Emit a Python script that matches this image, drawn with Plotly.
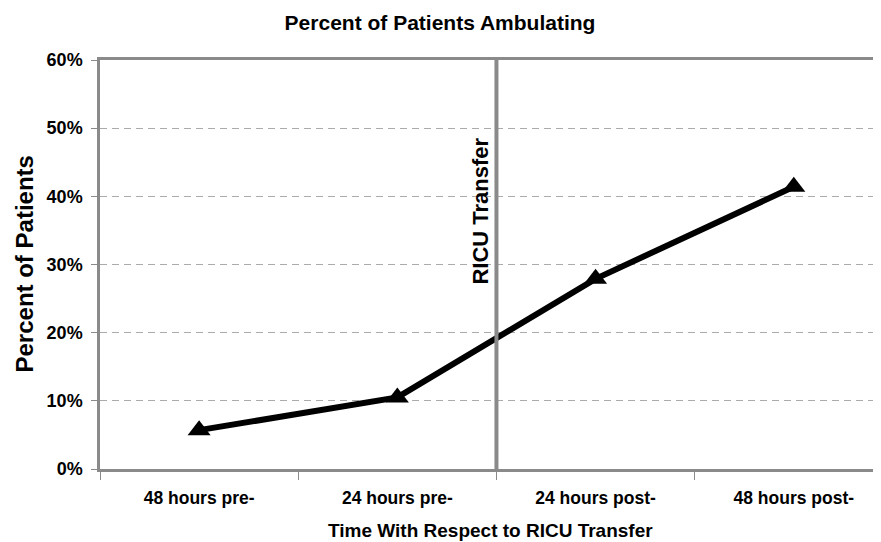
import plotly.graph_objects as go

categories = ["48 hours pre-", "24 hours pre-", "24 hours post-", "48 hours post-"]
percent_ambulating = [0.057, 0.105, 0.279, 0.414]
y_ticks = [0, 0.1, 0.2, 0.3, 0.4, 0.5, 0.6]
y_tick_labels = ["0%", "10%", "20%", "30%", "40%", "50%", "60%"]
transfer_position = 1.5
transfer_label = "RICU Transfer"

font_family = "Liberation Sans, Arial, sans-serif"
gray = "#8a8a8a"

# the page body adds an 8px offset; size the figure to the visible window area
FIG_W, FIG_H = 873, 534

fig = go.Figure()
fig.add_trace(go.Scatter(
    x=categories, y=percent_ambulating, mode="lines+markers",
    line=dict(color="black", width=6),
    marker=dict(symbol="triangle-up", size=20, color="black"),
    showlegend=False, cliponaxis=False,
))

fig.add_shape(type="line", xref="x", yref="paper", x0=transfer_position, x1=transfer_position,
              y0=0, y1=1, line=dict(color=gray, width=4))
fig.add_annotation(x=transfer_position, xref="x", y=0.5, yref="y", text="<b>" + transfer_label + "</b>",
                   textangle=-90, showarrow=False, xanchor="right", yanchor="top",
                   xshift=-1, yshift=-7,
                   font=dict(family=font_family, size=22, color="black"))

# axis titles as annotations for precise placement
fig.add_annotation(x=0.5, xref="paper", y=0, yref="paper", yshift=-61,
                   text="<b>Time With Respect to RICU Transfer</b>", showarrow=False,
                   xanchor="center", yanchor="middle",
                   font=dict(family=font_family, size=19, color="black"))
fig.add_annotation(x=0, xref="paper", y=0.5, yref="paper", xshift=-76,
                   text="<b>Percent of Patients</b>", showarrow=False, textangle=-90,
                   xanchor="center", yanchor="middle",
                   font=dict(family=font_family, size=24, color="black"))

fig.update_layout(
    width=FIG_W, height=FIG_H,
    margin=dict(l=92, r=0, t=52, b=73),
    paper_bgcolor="white", plot_bgcolor="white",
    title=dict(text="<b>Percent of Patients Ambulating</b>", x=432 / FIG_W, xanchor="center",
               xref="container", y=1 - 15 / FIG_H, yref="container", yanchor="middle",
               font=dict(family=font_family, size=21, color="black")),
    font=dict(family=font_family, color="black"),
)
fig.update_xaxes(
    type="category", range=[-0.5, 3.44], tickson="boundaries",
    ticks="outside", ticklen=8, tickcolor=gray, tickwidth=1,
    showline=True, linecolor=gray, linewidth=2.5, mirror=True,
    showgrid=False, zeroline=False, automargin=False,
    ticklabelstandoff=11,
    tickfont=dict(family=font_family, size=17.5, color="black", weight="bold"),
)
fig.update_yaxes(
    range=[0, 0.6], tickvals=y_ticks, ticktext=y_tick_labels,
    ticks="outside", ticklen=6, tickcolor=gray, tickwidth=1,
    showline=True, linecolor=gray, linewidth=2.5,
    showgrid=True, gridcolor="#ababab", griddash="7px,5px", gridwidth=1,
    zeroline=False, automargin=False,
    ticklabelstandoff=5,
    tickfont=dict(family=font_family, size=18, color="black", weight="bold"),
)

fig.write_html("out.html")
